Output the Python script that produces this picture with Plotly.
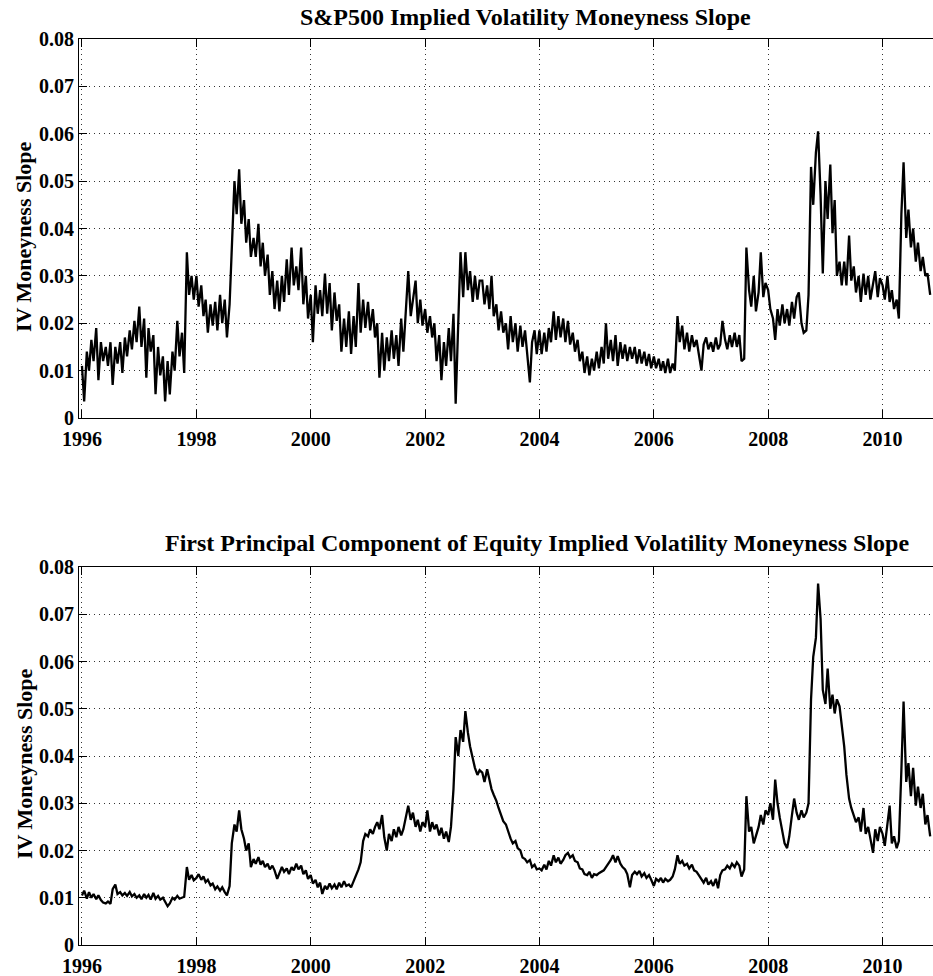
import pandas as pd
import plotly.graph_objects as go

# Semi-monthly observations (1st and 15th), Jan 1996 - Nov 2010, values in units of 1e-4
sp500_slope_e4 = [
    # 1996
    110, 35, 140, 100, 165, 120, 190, 80, 160, 120, 150, 110, 160, 70, 150, 115, 160, 95, 170, 130, 185, 145, 205, 160,
    # 1997
    235, 150, 210, 85, 190, 140, 175, 50, 150, 90, 130, 35, 120, 50, 140, 100, 205, 130, 180, 95, 350, 260, 300, 250,
    # 1998
    300, 235, 280, 215, 250, 180, 240, 195, 245, 185, 260, 200, 250, 170, 240, 350, 500, 430, 525, 410, 460, 370, 420, 340,
    # 1999
    380, 340, 410, 320, 370, 300, 345, 260, 310, 230, 290, 225, 300, 245, 335, 260, 360, 280, 320, 270, 360, 240, 300, 210,
    # 2000
    260, 160, 280, 220, 270, 215, 305, 220, 285, 185, 265, 205, 240, 140, 210, 150, 225, 135, 215, 150, 285, 180, 250, 190,
    # 2001
    245, 185, 230, 170, 200, 85, 180, 100, 170, 120, 185, 125, 175, 110, 210, 140, 230, 310, 215, 255, 290, 200, 250, 195,
    # 2002
    230, 180, 215, 170, 200, 120, 175, 80, 160, 110, 190, 120, 220, 30, 200, 350, 255, 350, 270, 310, 245, 300, 250, 290,
    # 2003
    290, 240, 280, 230, 300, 215, 240, 185, 225, 180, 200, 145, 215, 160, 200, 140, 195, 150, 185, 130, 75, 160, 185, 135,
    # 2004
    185, 135, 180, 140, 190, 160, 225, 165, 215, 170, 210, 160, 205, 155, 180, 140, 165, 120, 140, 95, 130, 90, 125, 100,
    # 2005
    140, 105, 150, 115, 200, 125, 165, 120, 175, 110, 160, 125, 155, 120, 150, 125, 150, 115, 145, 115, 140, 110, 135, 105,
    # 2006
    130, 105, 125, 100, 120, 95, 125, 95, 115, 100, 215, 160, 195, 145, 180, 140, 175, 150, 165, 135, 100, 155, 170, 145,
    # 2007
    160, 140, 170, 145, 155, 205, 165, 145, 175, 150, 180, 150, 175, 120, 125, 360, 270, 235, 300, 225, 265, 350, 255, 285,
    # 2008
    270, 230, 210, 165, 230, 195, 240, 200, 230, 195, 245, 210, 255, 265, 200, 180, 185, 260, 530, 450, 560, 605, 470, 305,
    # 2009
    500, 420, 535, 390, 460, 300, 330, 280, 330, 280, 385, 290, 320, 265, 300, 245, 305, 260, 300, 250, 280, 310, 255, 295,
    # 2010
    280, 250, 300, 245, 270, 230, 250, 210, 430, 540, 380, 440, 360, 400, 330, 370, 310, 340, 300, 305, 260,
]

pc1_slope_e4 = [
    # 1996
    105, 115, 98, 112, 100, 108, 97, 105, 95, 90, 88, 92, 87, 118, 128, 108, 112, 105, 110, 104, 112, 103, 108, 100,
    # 1997
    105, 97, 108, 100, 106, 96, 110, 98, 104, 96, 100, 90, 82, 88, 100, 96, 104, 98, 100, 102, 165, 138, 148, 137,
    # 1998
    142, 150, 138, 145, 133, 138, 126, 130, 118, 124, 115, 122, 112, 105, 125, 215, 255, 240, 285, 245, 225, 200, 215, 165,
    # 1999
    182, 172, 186, 170, 178, 165, 172, 160, 168, 158, 140, 152, 165, 155, 162, 150, 165, 158, 172, 160, 168, 150, 158, 140,
    # 2000
    148, 130, 138, 122, 132, 108, 125, 118, 130, 120, 128, 118, 132, 122, 135, 125, 128, 122, 135, 145, 160, 175, 220, 235,
    # 2001
    230, 245, 235, 250, 260, 245, 275, 228, 200, 235, 220, 245, 228, 250, 232, 245, 270, 295, 265, 280, 250, 265, 240, 260,
    # 2002
    250, 285, 240, 260, 245, 255, 232, 248, 225, 240, 218, 250, 330, 440, 400, 455, 430, 495, 450, 420, 395, 375, 360, 370,
    # 2003
    365, 345, 372, 350, 330, 318, 305, 290, 275, 262, 255, 240, 225, 215, 220, 205, 200, 185, 182, 175, 180, 165, 170, 160,
    # 2004
    162, 158, 170, 160, 178, 168, 190, 175, 185, 172, 180, 190, 195, 185, 190, 178, 175, 162, 160, 150, 148, 155, 142, 150,
    # 2005
    148, 152, 155, 158, 165, 172, 180, 190, 175, 188, 172, 165, 160, 150, 122, 148, 155, 150, 157, 145, 152, 142, 148, 138,
    # 2006
    125, 140, 135, 142, 132, 140, 135, 138, 145, 160, 190, 172, 178, 168, 172, 162, 170, 158, 155, 148, 140, 132, 142, 128,
    # 2007
    135, 125, 140, 120, 148, 158, 160, 168, 162, 172, 165, 175, 168, 145, 160, 315, 240, 250, 215, 230, 250, 275, 255, 285,
    # 2008
    275, 300, 265, 350, 300, 270, 235, 215, 205, 230, 275, 310, 280, 265, 285, 270, 280, 300, 520, 610, 650, 765, 690, 540,
    # 2009
    510, 585, 500, 530, 490, 520, 505, 470, 420, 360, 310, 290, 275, 260, 270, 240, 290, 235, 250, 225, 195, 245, 220, 250,
    # 2010
    235, 210, 255, 295, 215, 230, 205, 220, 370, 515, 345, 385, 315, 375, 295, 335, 290, 320, 255, 275, 230,
]

year_ticks = list(range(1996, 2011, 2))
y_ticks = [0, 0.01, 0.02, 0.03, 0.04, 0.05, 0.06, 0.07, 0.08]
y_tick_text = ["0", "0.01", "0.02", "0.03", "0.04", "0.05", "0.06", "0.07", "0.08"]

top_title = "S&P500 Implied Volatility Moneyness Slope"
bottom_title = "First Principal Component of Equity Implied Volatility Moneyness Slope"
y_title = "IV Moneyness Slope"

sp500_dates = pd.date_range("1996-01-01", periods=len(sp500_slope_e4), freq="SMS")
pc1_dates = pd.date_range("1996-01-01", periods=len(pc1_slope_e4), freq="SMS")
sp500_vals = [v / 1e4 for v in sp500_slope_e4]
pc1_vals = [v / 1e4 for v in pc1_slope_e4]

W, H = 933, 976
L = 79
FONT = "Liberation Serif, Times New Roman, serif"

fig = go.Figure()
fig.add_trace(go.Scatter(x=sp500_dates, y=sp500_vals, mode="lines",
                         line=dict(color="black", width=2.3), xaxis="x", yaxis="y"))
fig.add_trace(go.Scatter(x=pc1_dates, y=pc1_vals, mode="lines",
                         line=dict(color="black", width=2.3), xaxis="x2", yaxis="y2"))


def py(px):
    return (H - px) / H


def px_x(px):
    return (px - L) / (W - L)


x_common = dict(
    type="date",
    range=["1995-12-13", "2010-11-19"],
    tickvals=[f"{y}-01-01" for y in year_ticks],
    ticktext=[str(y) for y in year_ticks],
    ticks="inside", ticklen=8, tickcolor="black", tickwidth=1,
    showline=True, linecolor="black", linewidth=1, mirror="ticks",
    showgrid=True, gridcolor="#333", gridwidth=1, griddash="1px,4px",
    zeroline=False,
    tickfont=dict(family=FONT, size=20, color="black", weight="bold"),
    ticklabelstandoff=3,
    automargin=False,
)
y_common = dict(
    range=[0, 0.08],
    tickvals=y_ticks, ticktext=y_tick_text,
    ticks="inside", ticklen=8, tickcolor="black", tickwidth=1,
    showline=True, linecolor="black", linewidth=1, mirror=False,
    showgrid=True, gridcolor="#333", gridwidth=1, griddash="1px,4px",
    zeroline=False,
    tickfont=dict(family=FONT, size=20, color="black", weight="bold"),
    automargin=False,
)

fig.update_layout(
    width=W, height=H,
    margin=dict(l=L, r=0, t=0, b=0),
    paper_bgcolor="white", plot_bgcolor="white",
    showlegend=False,
    template="none",
    xaxis=dict(domain=[0, 1], anchor="y", **x_common),
    yaxis=dict(domain=[py(418), py(39)], anchor="x", **y_common),
    xaxis2=dict(domain=[0, 1], anchor="y2", **x_common),
    yaxis2=dict(domain=[py(945), py(567)], anchor="x2", **y_common),
    annotations=[
        dict(text=top_title, x=px_x(525), y=py(17), xref="paper", yref="paper",
             xanchor="center", yanchor="middle", showarrow=False,
             font=dict(family=FONT, size=24, color="black", weight="bold")),
        dict(text=bottom_title, x=px_x(537), y=py(543), xref="paper", yref="paper",
             xanchor="center", yanchor="middle", showarrow=False,
             font=dict(family=FONT, size=24, color="black", weight="bold")),
        dict(text=y_title, x=px_x(24), y=py(237), xref="paper", yref="paper",
             xanchor="center", yanchor="middle", showarrow=False, textangle=-90,
             font=dict(family=FONT, size=22, color="black", weight="bold")),
        dict(text=y_title, x=px_x(24), y=py(764), xref="paper", yref="paper",
             xanchor="center", yanchor="middle", showarrow=False, textangle=-90,
             font=dict(family=FONT, size=22, color="black", weight="bold")),
    ],
)

fig.write_html("out.html")
